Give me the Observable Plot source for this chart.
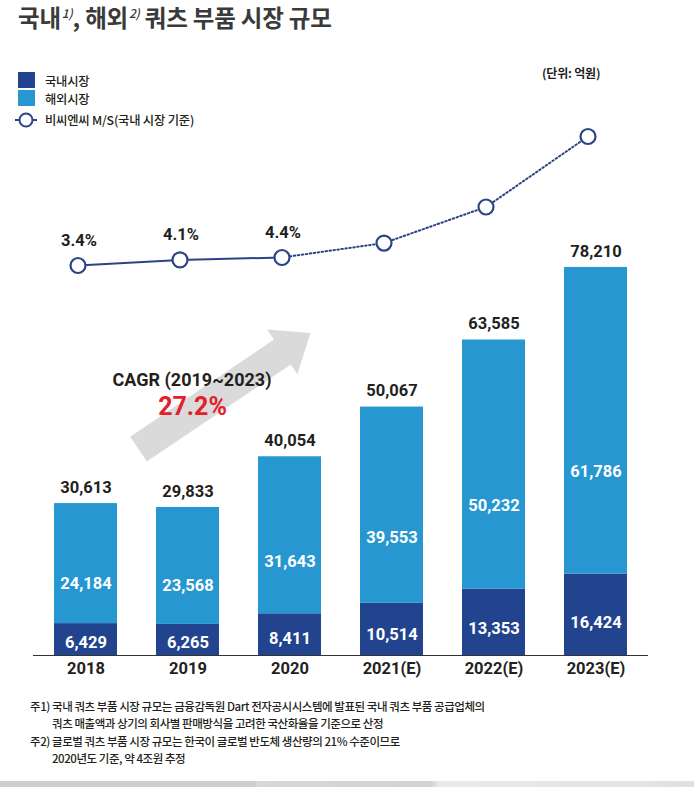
<!DOCTYPE html>
<html>
<head>
<meta charset="utf-8">
<script src="https://cdn.jsdelivr.net/npm/d3@7"></script>
<script src="https://cdn.jsdelivr.net/npm/@observablehq/plot@0.6"></script>
<style>
  html, body { margin: 0; padding: 0; background: #fff; }
  body { width: 694px; height: 787px; position: relative; overflow: hidden;
         font-family: "Noto Sans CJK KR", "Noto Sans", sans-serif; color: #231f20; }
  .abs { position: absolute; white-space: nowrap; }
  #title { left: 18px; top: 0px; font-size: 23.5px; font-weight: 700; color: #3a3a3a; line-height: normal; letter-spacing: -0.2px; }
  #title sup { font-size: 12px; font-weight: 500; font-style: italic; vertical-align: 9px; margin-left: 1px; line-height: 0; }
  .sw { position: absolute; width: 17px; height: 16px; }
  .lg { font-size: 12.3px; font-weight: 500; line-height: 14px; letter-spacing: -0.2px; }
  #unit { left: 542px; top: 64px; font-size: 12px; font-weight: 700; letter-spacing: -0.2px; }
  #chart { position: absolute; left: 0; top: 120px; }
  .fn { font-size: 11.5px; line-height: 14px; letter-spacing: -0.45px; font-weight: 500; }
  #band { left: 0; top: 781px; width: 694px; height: 6px;
          background: linear-gradient(90deg, #cfcfcf 0, #cfcfcf 255px, #d9d5dc 256px, #d6d1d8 430px, #ece9ec 440px, #e3dfe4 694px); }
</style>
</head>
<body>
<div id="title" class="abs">국내<sup>1)</sup>, 해외<sup>2)</sup> 쿼츠 부품 시장 규모</div>
<div id="legend"></div>
<div id="unit" class="abs">(단위: 억원)</div>
<div id="chart"></div>
<div id="notes"></div>
<div id="band" class="abs"></div>
<script>
// ---- data ----
const years = ["2018", "2019", "2020", "2021(E)", "2022(E)", "2023(E)"];
const seriesNames = ["국내시장", "해외시장"];
const domestic = [6429, 6265, 8411, 10514, 13353, 16424];
const overseas = [24184, 23568, 31643, 39553, 50232, 61786];
const totals = [30613, 29833, 40054, 50067, 63585, 78210];
const msName = "비씨엔씨 M/S(국내 시장 기준)";
const msShare = [3.4, 4.1, 4.4, 6.2, 10.7, 19.5];   // 2021–2023
const msLabels = ["3.4%", "4.1%", "4.4%", null, null, null];
const cagrTitle = "CAGR (2019~2023)";
const cagrValue = "27.2%";
const unitText = "(단위: 억원)";
const notes = [
  ["주1) 국내 쿼츠 부품 시장 규모는 금융감독원 Dart 전자공시시스템에 발표된 국내 쿼츠 부품 공급업체의", "쿼츠 매출액과 상기의 회사별 판매방식을 고려한 국산화율을 기준으로 산정"],
  ["주2) 글로벌 쿼츠 부품 시장 규모는 한국이 글로벌 반도체 생산량의 21% 수준이므로", "2020년도 기준, 약 4조원 추정"]
];

const colDomestic = "#22448f";
const colOverseas = "#2697d0";
const colLine = "#2b4584";
const numFont = "Roboto, 'Noto Sans CJK KR', sans-serif";

// ---- tables ----
const stacked = [];
years.forEach((y, i) => {
  stacked.push({year: y, series: seriesNames[0], value: domestic[i]});
  stacked.push({year: y, series: seriesNames[1], value: overseas[i]});
});
const rows = years.map((y, i) => ({year: y, dom: domestic[i], ovs: overseas[i], total: totals[i], ms: msShare[i], msLabel: msLabels[i]}));

// M/S is drawn on its own linear mapping into the shared vertical space
const msToY = d3.scaleLinear().domain([3.4, 19.5]).range([78600, 104600]);

// ---- legend (HTML) ----
const legend = document.getElementById("legend");
legend.innerHTML = `
  <div class="sw" style="left:18px;top:72px;background:${colDomestic}"></div>
  <div class="abs lg" style="left:45px;top:74px">${seriesNames[0]}</div>
  <div class="sw" style="left:18px;top:90px;background:${colOverseas}"></div>
  <div class="abs lg" style="left:45px;top:92px">${seriesNames[1]}</div>
  <svg class="abs" style="left:12px;top:111px" width="28" height="18">
    <line x1="3" y1="9" x2="25" y2="9" stroke="${colLine}" stroke-width="2"/>
    <circle cx="14" cy="9" r="6.5" fill="#fff" stroke="${colLine}" stroke-width="2"/>
  </svg>
  <div class="abs lg" style="left:45px;top:113px">${msName}</div>`;

document.getElementById("unit").textContent = unitText;

const notesEl = document.getElementById("notes");
notesEl.innerHTML = notes.map((n, k) => `
  <div class="abs fn" style="left:30px;top:${699 + k * 35}px">${n[0]}</div>
  <div class="abs fn" style="left:52px;top:${716 + k * 35}px">${n[1]}</div>`).join("");

// ---- chart ----
const arrowMark = (index, {x, y}) => {
  const bw = x.bandwidth();
  const t = [x("2018") + bw / 2 + 53, y(41500)];
  const h = [x("2020") + bw / 2 + 21, y(64900)];
  const dxv = h[0] - t[0], dyv = h[1] - t[1];
  const L = Math.hypot(dxv, dyv);
  const d = [dxv / L, dyv / L], n = [-d[1], d[0]];
  const headLen = 34, headW = 27, shaftW = 15;
  const nk = [h[0] - d[0] * headLen, h[1] - d[1] * headLen];
  const P = (p, s, w) => [p[0] + n[0] * w * s, p[1] + n[1] * w * s];
  const pts = [P(t, 1, shaftW), P(nk, 1, shaftW), P(nk, 1, headW), h, P(nk, -1, headW), P(nk, -1, shaftW), P(t, -1, shaftW)];
  const el = document.createElementNS("http://www.w3.org/2000/svg", "polygon");
  el.setAttribute("points", pts.map(p => p.join(",")).join(" "));
  el.setAttribute("fill", "#dadada");
  return el;
};

const chart = Plot.plot({
  width: 694,
  height: 560,
  marginLeft: 14,
  marginRight: 28,
  marginTop: 14,
  marginBottom: 25,
  style: {fontFamily: numFont, color: "#231f20", background: "transparent"},
  x: {type: "band", domain: years, padding: 0.384, label: null},
  y: {domain: [0, 105000], axis: null},
  color: {domain: seriesNames, range: [colDomestic, colOverseas]},
  marks: [
    arrowMark,
    Plot.barY(stacked, {x: "year", y: "value", fill: "series"}),
    Plot.ruleY([0], {stroke: "#333", strokeWidth: 1.2, insetLeft: 19, insetRight: 18}),
    Plot.axisX({tickSize: 0, tickPadding: 7, fontSize: 16.5, fontWeight: "bold", fill: "#231f20"}),
    Plot.text(rows, {x: "year", y: "total", text: d => d3.format(",")(d.total), dy: -16, fontSize: 16.5, fontWeight: "bold", fill: "#231f20", lineAnchor: "middle"}),
    Plot.text(rows, {x: "year", y: d => d.dom + d.ovs / 3, text: d => d3.format(",")(d.ovs), fontSize: 16.5, fontWeight: "bold", fill: "#fff", lineAnchor: "middle"}),
    Plot.text(rows, {x: "year", y: d => d.dom * 0.4, text: d => d3.format(",")(d.dom), fontSize: 16.5, fontWeight: "bold", fill: "#fff", lineAnchor: "middle"}),
    Plot.line(rows.slice(0, 3), {x: "year", y: d => msToY(d.ms), stroke: colLine, strokeWidth: 2, dx: -8}),
    Plot.line(rows.slice(2), {x: "year", y: d => msToY(d.ms), stroke: colLine, strokeWidth: 2, strokeDasharray: "1.5,2.5", dx: -8}),
    Plot.dot(rows, {x: "year", y: d => msToY(d.ms), r: 7.5, fill: "#fff", stroke: colLine, strokeWidth: 2.2, dx: -8}),
    Plot.text(rows.filter(d => d.msLabel), {x: "year", y: d => msToY(d.ms), text: "msLabel", dy: -25, dx: -7, fontSize: 16.5, fontWeight: "bold", fill: "#231f20", lineAnchor: "middle"}),
    Plot.text([cagrTitle], {frameAnchor: "top-left", textAnchor: "middle", dx: 177.5, dy: 246, fontSize: 18, fontWeight: "bold", fill: "#231f20", lineAnchor: "middle"}),
    Plot.text([cagrValue], {frameAnchor: "top-left", textAnchor: "middle", dx: 178, dy: 272, fontSize: 25, fontWeight: "bold", fill: "#e3202b", lineAnchor: "middle"})
  ]
});
document.getElementById("chart").appendChild(chart);
</script>
</body>
</html>
